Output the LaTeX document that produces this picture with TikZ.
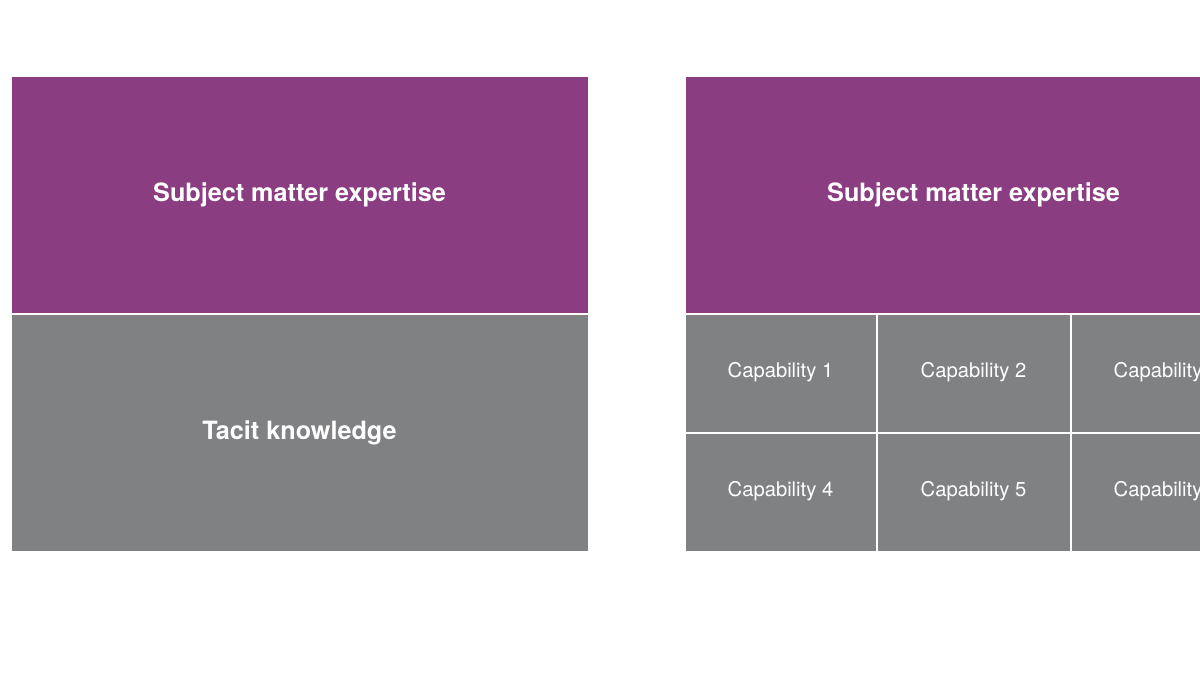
\documentclass[tikz,border=0pt]{standalone}
\usepackage{fontspec}
\setmainfont{TeX Gyre Heros}
\definecolor{smepurple}{RGB}{139,61,130}
\definecolor{tacitgray}{RGB}{128,129,131}
\begin{document}
\begin{tikzpicture}[x=1pt,y=-1pt,
  box/.style={draw=white,line width=2pt,inner sep=0pt,text=white,anchor=north west},
  bigtext/.style={font=\bfseries\fontsize{25.2}{30}\selectfont},
  captext/.style={font=\fontsize{20.2}{24}\selectfont}]
\useasboundingbox (0,0) rectangle (1200,675);
\clip (0,0) rectangle (1200,675);
% left panel
\node[box,fill=smepurple,minimum width=578pt,minimum height=238pt,bigtext] (sme1) at (9.5,75) {\raisebox{4.5pt}{Subject matter expertise}};
\node[box,fill=tacitgray,minimum width=578pt,minimum height=238pt,bigtext] (tacit) at (9.5,313) {\raisebox{4.5pt}{Tacit knowledge}};
% right panel
\node[box,fill=smepurple,minimum width=578pt,minimum height=238pt,bigtext] (sme2) at (683.5,75) {\raisebox{4.5pt}{Subject matter expertise}};
\node[box,fill=tacitgray,minimum width=192pt,minimum height=119pt,captext] (c1) at (683.5,313) {\raisebox{7pt}{Capability 1}};
\node[box,fill=tacitgray,minimum width=194pt,minimum height=119pt,captext] (c2) at (875.5,313) {\raisebox{7pt}{Capability 2}};
\node[box,fill=tacitgray,minimum width=192pt,minimum height=119pt,captext] (c3) at (1069.5,313) {\raisebox{7pt}{Capability 3}};
\node[box,fill=tacitgray,minimum width=192pt,minimum height=119pt,captext] (c4) at (683.5,432) {\raisebox{7pt}{Capability 4}};
\node[box,fill=tacitgray,minimum width=194pt,minimum height=119pt,captext] (c5) at (875.5,432) {\raisebox{7pt}{Capability 5}};
\node[box,fill=tacitgray,minimum width=192pt,minimum height=119pt,captext] (c6) at (1069.5,432) {\raisebox{7pt}{Capability 6}};
\end{tikzpicture}
\end{document}
